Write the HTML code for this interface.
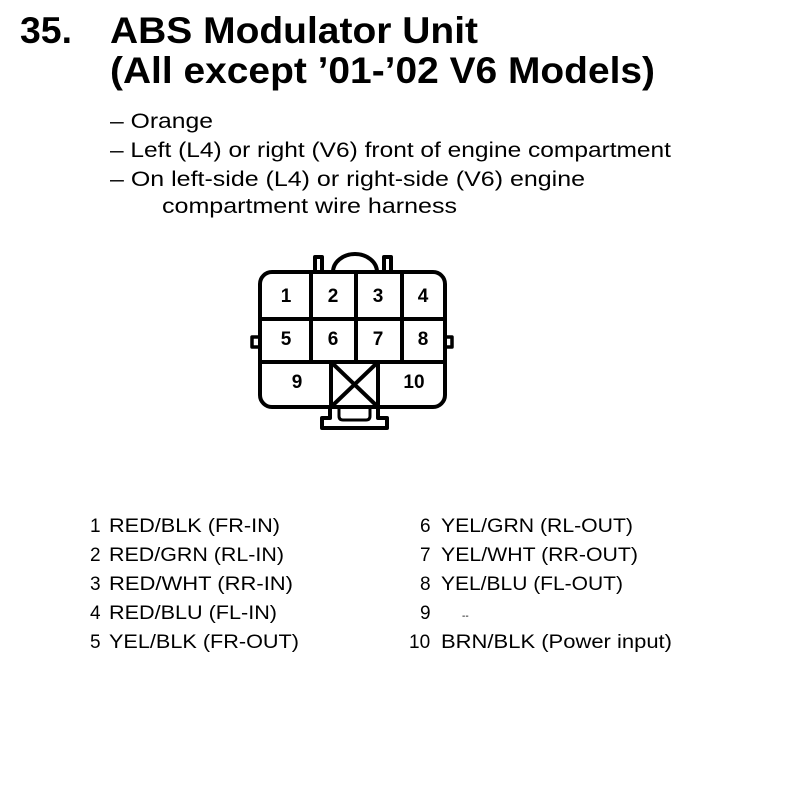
<!DOCTYPE html>
<html><head><meta charset="utf-8"><style>html,body{margin:0;padding:0;background:#fff}svg{display:block}</style></head>
<body>
<svg width="800" height="798" viewBox="0 0 800 798" xmlns="http://www.w3.org/2000/svg" font-family="Liberation Sans, Arial, sans-serif" fill="#000">
<g font-weight="bold" font-size="37">
<text x="20" y="43" textLength="52" lengthAdjust="spacingAndGlyphs">35.</text>
<text x="110" y="43" textLength="368" lengthAdjust="spacingAndGlyphs">ABS Modulator Unit</text>
<text x="110" y="83" textLength="545" lengthAdjust="spacingAndGlyphs">(All except ’01-’02 V6 Models)</text>
</g>
<g font-size="21">
<text x="110" y="128" textLength="103" lengthAdjust="spacingAndGlyphs">– Orange</text>
<text x="110" y="157" textLength="561" lengthAdjust="spacingAndGlyphs">– Left (L4) or right (V6) front of engine compartment</text>
<text x="110" y="186" textLength="475" lengthAdjust="spacingAndGlyphs">– On left-side (L4) or right-side (V6) engine</text>
<text x="162" y="213" textLength="295" lengthAdjust="spacingAndGlyphs">compartment wire harness</text>
</g>
<g fill="none" stroke="#000" stroke-width="4" stroke-linejoin="round">
<path d="M315,272 V257 H322 V272 M384,272 V257 H391 V272"/>
<path d="M333,272 A22,18 0 0 1 377,272"/>
<path d="M259,337 H252 V347 H259 M445,337 H452 V347 H445" stroke-width="3.5"/>
<rect x="260" y="272" width="185" height="135" rx="12"/>
<line x1="260" y1="319" x2="445" y2="319"/>
<line x1="260" y1="362" x2="445" y2="362"/>
<line x1="311" y1="272" x2="311" y2="362"/>
<line x1="356" y1="272" x2="356" y2="362"/>
<line x1="402" y1="272" x2="402" y2="362"/>
<rect x="331" y="362" width="47" height="45"/>
<line x1="331" y1="362" x2="378" y2="407"/>
<line x1="378" y1="362" x2="331" y2="407"/>
<path d="M330,407 V418 H322 V428 H387 V418 H378 V407"/>
<path d="M339,407 V416 Q339,420 343,420 H366 Q370,420 370,416 V407" stroke-width="3"/>
</g>
<g font-weight="bold" font-size="19" text-anchor="middle">
<text x="286" y="302">1</text><text x="333" y="302">2</text><text x="378" y="302">3</text><text x="423" y="302">4</text>
<text x="286" y="345">5</text><text x="333" y="345">6</text><text x="378" y="345">7</text><text x="423" y="345">8</text>
<text x="297" y="388">9</text><text x="414" y="388">10</text>
</g>
<g font-size="19">
<text x="90" y="532">1</text><text x="109" y="532" textLength="171" lengthAdjust="spacingAndGlyphs">RED/BLK (FR-IN)</text>
<text x="90" y="561">2</text><text x="109" y="561" textLength="175" lengthAdjust="spacingAndGlyphs">RED/GRN (RL-IN)</text>
<text x="90" y="590">3</text><text x="109" y="590" textLength="184" lengthAdjust="spacingAndGlyphs">RED/WHT (RR-IN)</text>
<text x="90" y="619">4</text><text x="109" y="619" textLength="168" lengthAdjust="spacingAndGlyphs">RED/BLU (FL-IN)</text>
<text x="90" y="648">5</text><text x="109" y="648" textLength="190" lengthAdjust="spacingAndGlyphs">YEL/BLK (FR-OUT)</text>
<text x="420" y="532">6</text><text x="441" y="532" textLength="192" lengthAdjust="spacingAndGlyphs">YEL/GRN (RL-OUT)</text>
<text x="420" y="561">7</text><text x="441" y="561" textLength="197" lengthAdjust="spacingAndGlyphs">YEL/WHT (RR-OUT)</text>
<text x="420" y="590">8</text><text x="441" y="590" textLength="182" lengthAdjust="spacingAndGlyphs">YEL/BLU (FL-OUT)</text>
<text x="420" y="619">9</text><text x="462" y="619" font-size="10">--</text>
<text x="409" y="648">10</text><text x="441" y="648" textLength="231" lengthAdjust="spacingAndGlyphs">BRN/BLK (Power input)</text>
</g>
</svg>
</body></html>
